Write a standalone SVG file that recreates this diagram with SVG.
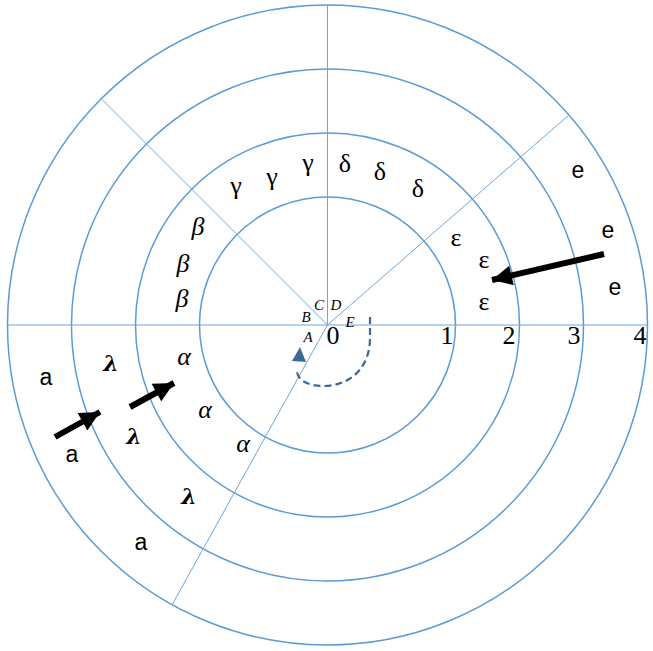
<svg xmlns="http://www.w3.org/2000/svg" width="653" height="651" viewBox="0 0 653 651">
<defs>
<style>
.ring{fill:none;stroke:#5B9BD5;stroke-width:1.5}
.ray{stroke:#6FA5DA;stroke-width:1}
.g{font-family:"Liberation Serif",serif;font-size:26px;fill:#000;text-anchor:middle}
.gi{font-family:"Liberation Serif",serif;font-style:italic;font-size:26px;fill:#000;text-anchor:middle}
.s{font-family:"Liberation Sans",sans-serif;font-size:23px;fill:#000;text-anchor:middle}
.l{font-family:"DejaVu Serif",serif;font-weight:bold;font-style:italic;font-size:22px;fill:#000;text-anchor:middle}
.sm{font-family:"Liberation Serif",serif;font-style:italic;font-size:15px;fill:#000;text-anchor:middle}
.arr{stroke:#000;stroke-width:6;fill:none}
</style>
<marker id="ah" viewBox="0 0 10 10" refX="10" refY="5" markerUnits="userSpaceOnUse" markerWidth="21" markerHeight="20" orient="auto">
<path d="M0,0 L10,5 L0,10 Z" fill="#000"/>
</marker>
</defs>
<rect width="653" height="651" fill="#fff"/>
<g id="rings">
<circle class="ring" cx="327.5" cy="325" r="128"/>
<circle class="ring" cx="327.5" cy="325" r="192"/>
<circle class="ring" cx="327.5" cy="325" r="256"/>
<circle class="ring" cx="327.5" cy="325" r="320"/>
</g>
<g id="rays">
<line class="ray" x1="7.5" y1="325" x2="647.5" y2="325"/>
<line class="ray" x1="327.5" y1="325" x2="327.5" y2="5"/>
<line class="ray" x1="327.5" y1="325" x2="101.2" y2="98.7"/>
<line class="ray" x1="327.5" y1="325" x2="569" y2="115"/>
<line class="ray" x1="327.5" y1="325" x2="172" y2="605"/>
</g>
<g id="rotation">
<path d="M370,317 L370,338 C370,368 350,386 323,386 C310,386 298,381 297,372" fill="none" stroke="#3E6B96" stroke-width="2.2" stroke-dasharray="7,4"/>
<polygon points="292,361 300,347 306,362" fill="#3E6B96"/>
</g>
<g id="center-labels">
<text class="sm" x="306" y="322">B</text>
<text class="sm" x="319" y="310">C</text>
<text class="sm" x="336" y="310">D</text>
<text class="sm" x="350" y="327">E</text>
<text class="sm" x="308" y="342">A</text>
<text class="g" x="333" y="344">0</text>
</g>
<g id="scale">
<text class="g" x="447" y="344">1</text>
<text class="g" x="509" y="344">2</text>
<text class="g" x="574" y="344">3</text>
<text class="g" x="640" y="344">4</text>
</g>
<g id="ring2-labels">
<text class="gi" x="198" y="235">β</text>
<text class="gi" x="183" y="272">β</text>
<text class="gi" x="182" y="307">β</text>
<text class="g" x="236" y="194">γ</text>
<text class="g" x="272" y="185">γ</text>
<text class="g" x="308" y="171">γ</text>
<text class="g" x="345" y="172">δ</text>
<text class="g" x="380" y="180">δ</text>
<text class="g" x="418" y="197">δ</text>
<text class="g" x="456" y="246">ε</text>
<text class="g" x="484" y="268">ε</text>
<text class="g" x="484" y="310">ε</text>
<text class="gi" x="184" y="365">α</text>
<text class="gi" x="205" y="418">α</text>
<text class="gi" x="243" y="452">α</text>
</g>
<g id="ring3-labels">
<text class="l" x="111" y="371">λ</text>
<text class="l" x="134" y="444">λ</text>
<text class="l" x="189" y="504">λ</text>
</g>
<g id="ring4-labels">
<text class="s" x="578" y="178">e</text>
<text class="s" x="608" y="238">e</text>
<text class="s" x="615" y="295">e</text>
<text class="s" x="46" y="385">a</text>
<text class="s" x="72" y="462">a</text>
<text class="s" x="141" y="550">a</text>
</g>
<g id="connectors">
<line class="arr" x1="55" y1="437" x2="100" y2="412" marker-end="url(#ah)"/>
<line class="arr" x1="130" y1="407" x2="174" y2="383" marker-end="url(#ah)"/>
<line class="arr" x1="604" y1="254" x2="492" y2="280" marker-end="url(#ah)"/>
</g>
</svg>
